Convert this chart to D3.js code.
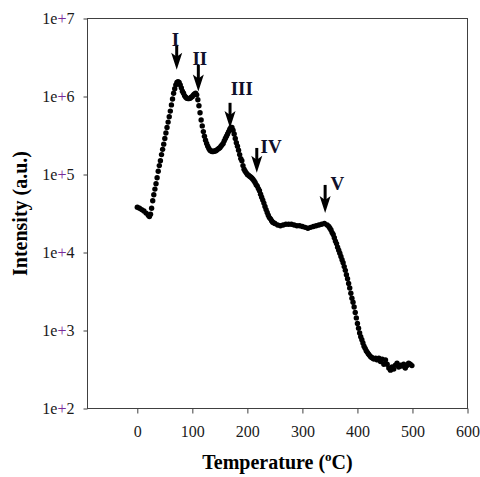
<!DOCTYPE html>
<html><head><meta charset="utf-8">
<script src="https://cdn.jsdelivr.net/npm/d3@7"></script>
<style>html,body{margin:0;padding:0;background:#fff;}svg{display:block;}</style>
</head><body>
<script>
// ---- data ----
const temperature = [
 0,4,8,12,16,20,
 22,24,26,28,30,32,34,36,38,40,42,44,46,48,50,52,54,56,58,60,62,64,66,68,70,72,74,76,78,80,
 82,84,86,88,90,92,94,96,98,100,102,104,106,108,110,112,114,116,118,120,122,124,126,128,130,
 132,134,136,138,140,142,144,146,148,150,152,154,156,158,160,162,164,166,168,170,172,174,176,
 178,180,182,184,186,188,190,192,194,196,198,200,202,204,206,208,210,212,214,216,218,220,222,
 224,226,228,230,232,234,236,238,240,242,244,246,248,250,
 255,260,265,270,275,280,285,290,295,300,305,310,315,320,325,330,335,340,345,
 348,350,352,354,356,358,360,362,364,366,368,370,372,374,376,378,380,382,384,386,388,390,392,
 394,396,398,400,402,404,406,408,410,412,414,416,418,420,422,424,426,428,430,
 433,436,439,442,445,448,451,454,457,460,463,466,469,472,475,478,481,484,487,490,493,496,499
];
const intensity = [
 3.8e4,3.7e4,3.55e4,3.4e4,3.2e4,3.0e4,
 2.9e4,3.1e4,3.7e4,4.6e4,5.5e4,6.5e4,7.6e4,9.1e4,1.1e5,1.3e5,1.5e5,1.8e5,2.1e5,2.45e5,2.9e5,
 3.4e5,4.0e5,4.7e5,5.5e5,6.5e5,7.8e5,9.3e5,1.1e6,1.26e6,1.41e6,1.51e6,1.55e6,1.51e6,1.41e6,1.29e6,
 1.17e6,1.1e6,1.02e6,9.8e5,9.5e5,9.4e5,9.4e5,9.5e5,9.8e5,1.0e6,1.05e6,1.08e6,1.1e6,1.05e6,9.1e5,
 7.6e5,6.2e5,5.0e5,4.2e5,3.55e5,3.1e5,2.75e5,2.5e5,2.3e5,2.15e5,
 2.05e5,2.0e5,1.97e5,1.97e5,2.0e5,2.0e5,2.05e5,2.1e5,2.15e5,2.2e5,2.3e5,2.4e5,2.5e5,2.7e5,2.9e5,
 3.1e5,3.3e5,3.55e5,3.8e5,4.0e5,4.0e5,3.7e5,3.3e5,
 2.9e5,2.55e5,2.3e5,2.05e5,1.8e5,1.6e5,1.5e5,1.3e5,1.17e5,1.1e5,1.05e5,1.0e5,9.8e4,9.5e4,9.3e4,
 9.0e4,8.7e4,8.3e4,7.9e4,7.4e4,7.1e4,6.6e4,6.2e4,
 5.6e4,5.1e4,4.7e4,4.3e4,3.9e4,3.55e4,3.25e4,3.0e4,2.8e4,2.7e4,2.55e4,2.45e4,2.4e4,2.35e4,
 2.25e4,2.2e4,2.25e4,2.3e4,2.3e4,2.3e4,2.25e4,2.2e4,2.2e4,2.15e4,2.1e4,
 2.05e4,2.1e4,2.15e4,2.2e4,2.25e4,2.3e4,2.35e4,2.25e4,
 2.15e4,2.05e4,1.95e4,1.8e4,1.7e4,1.55e4,1.4e4,1.3e4,1.17e4,1.07e4,9.8e3,8.9e3,8.1e3,7.4e3,6.6e3,
 5.9e3,5.2e3,4.6e3,4.0e3,3.5e3,3.0e3,2.6e3,2.3e3,
 2.0e3,1.7e3,1.45e3,1.23e3,1.07e3,930,830,760,690,630,590,550,525,500,480,460,450,440,430,
 440,420,440,400,430,370,420,370,330,310,340,320,360,380,340,360,350,370,330,355,380,370,355
];
const xTicks = [0,100,200,300,400,500,600];
const yTicks = [1e2,1e3,1e4,1e5,1e6,1e7];
const yDomain = [1e2,1e7];
const xDomain = [-90.5,600];
// annotation arrows: label, arrow temperature, arrow top/tip intensity, label temperature/intensity
const peakLabels = ["I","II","III","IV","V"];
const arrowT = [71.6,110.9,168.5,217.1,341.3];
const arrowTop = [4.6e6,2.55e6,8.3e5,2.19e5,7.35e4];
const arrowTip = [2.2e6,1.16e6,3.95e5,1.05e5,3.2e4];
const labelT = [69.5,113.6,189.8,243.1,363.6];
const labelI = [4.4e6,2.55e6,1.05e6,1.89e5,6.3e4];
const xTitle = "Temperature (";
const yTitle = "Intensity (a.u.)";

// ---- drawing ----
const W = 480, H = 477;
const mL = 87.5, mR = 467.5, mT = 18.5, mB = 408.5;
const svg = d3.select("body").append("svg").attr("width",W).attr("height",H);
const x = d3.scaleLinear().domain(xDomain).range([mL,mR]);
const y = d3.scaleLog().domain(yDomain).range([mB,mT]);
const serif = "'Liberation Serif','Times New Roman',serif";
const axisColor = "#404040";

// x axis
const gx = svg.append("g").attr("transform",`translate(0,${mB})`)
  .call(d3.axisBottom(x).tickValues(xTicks).tickSize(5).tickPadding(12).tickFormat(d3.format("d")));
gx.select(".domain").remove();
gx.selectAll("line").attr("stroke",axisColor);
gx.selectAll("text").attr("font-family",serif).attr("font-size",16).attr("fill","#1a1a1a");

// y axis
const gy = svg.append("g").attr("transform",`translate(${mL},0)`)
  .call(d3.axisLeft(y).tickValues(yTicks).tickSize(4).tickPadding(9).tickFormat(""));
gy.select(".domain").remove();
gy.selectAll("line").attr("stroke",axisColor);
gy.selectAll(".tick text").attr("font-family",serif).attr("font-size",16).attr("fill","#1a1a1a")
  .attr("dy","0.32em")
  .each(function(d){
    const t = d3.select(this);
    const e = Math.round(Math.log10(d));
    t.append("tspan").text("1e");
    t.append("tspan").attr("fill","#7a2a9a").text("+");
    t.append("tspan").text(e);
  });

// frame
svg.append("rect").attr("x",mL).attr("y",mT).attr("width",mR-mL).attr("height",mB-mT)
  .attr("fill","none").attr("stroke",axisColor).attr("stroke-width",1);

// data points
const pts = temperature.map((t,i)=>({t, v:intensity[i]}));
svg.append("g").selectAll("circle").data(pts).join("circle")
  .attr("cx",d=>x(d.t)).attr("cy",d=>y(d.v)).attr("r",2.7).attr("fill","#000");

// arrows
const ag = svg.append("g");
peakLabels.forEach((lab,i)=>{
  const ax = x(arrowT[i]), y0 = y(arrowTop[i]), y1 = y(arrowTip[i]);
  ag.append("line").attr("x1",ax).attr("x2",ax).attr("y1",y0).attr("y2",y1-10)
    .attr("stroke","#000").attr("stroke-width",3);
  ag.append("path")
    .attr("d",`M${ax},${y1} L${ax-5.5},${y1-17} L${ax},${y1-13} L${ax+5.5},${y1-17} Z`)
    .attr("fill","#000");
  ag.append("text").attr("x",x(labelT[i])).attr("y",y(labelI[i]))
    .attr("text-anchor","middle").attr("font-family",serif).attr("font-weight","bold")
    .attr("font-size",19).attr("fill","#10102a").text(lab);
});

// axis titles
const xt = svg.append("text").attr("x",(mL+mR)/2).attr("y",469)
  .attr("text-anchor","middle").attr("font-family",serif).attr("font-weight","bold")
  .attr("font-size",20).attr("fill","#000");
xt.append("tspan").text(xTitle);
xt.append("tspan").attr("font-size",13).attr("dy",-8).text("o");
xt.append("tspan").attr("dy",8).text("C)");

svg.append("text").attr("transform",`translate(27,${(mT+mB)/2}) rotate(-90)`)
  .attr("text-anchor","middle").attr("font-family",serif).attr("font-weight","bold")
  .attr("font-size",20).attr("fill","#000").text(yTitle);
</script>
</body></html>
